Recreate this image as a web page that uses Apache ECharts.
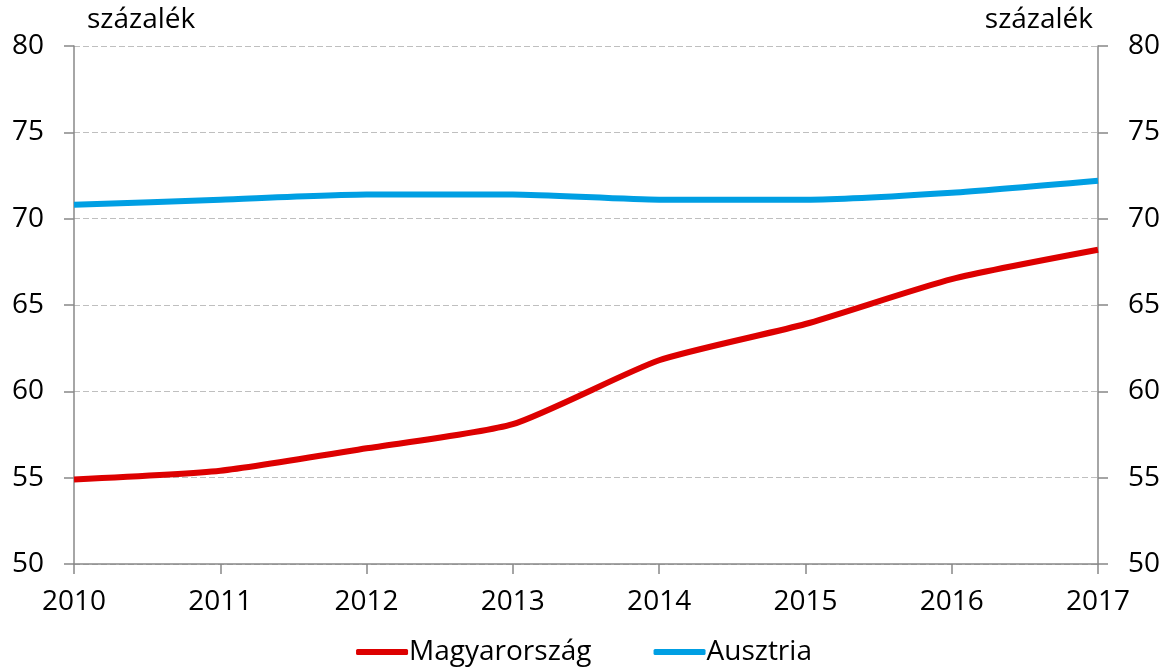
<!DOCTYPE html>
<html>
<head>
<meta charset="UTF-8">
<title></title>
<script src="https://cdn.jsdelivr.net/npm/echarts@6/dist/echarts.min.js"></script>
</head>
<body style="margin:0">
<div id="main" style="width:1168px;height:671px;"></div>
<script type="text/javascript">
var years = ['2010', '2011', '2012', '2013', '2014', '2015', '2016', '2017'];
var magyar = [54.9, 55.4, 56.7, 58.1, 61.8, 63.9, 66.5, 68.2];
var ausztria = [70.8, 71.1, 71.4, 71.4, 71.1, 71.1, 71.5, 72.2];
var unit = 'százalék';

var font = 'Open Sans';
var chart = echarts.init(document.getElementById('main'));
var yAx = function (pos) {
    return {
        type: 'value',
        position: pos,
        min: 50,
        max: 80,
        interval: 5,
        axisLine: { show: true, lineStyle: { color: '#888', width: 1.5 } },
        axisTick: { show: true, length: 10, lineStyle: { color: '#888', width: 1.5 } },
        axisLabel: { color: '#000', fontSize: 28, fontFamily: font, margin: 30 },
        splitLine: { show: pos === 'left', lineStyle: { color: '#bfbfbf', type: [6, 3], width: 1.2 } }
    };
};
var option = {
    animation: false,
    grid: { left: 74, right: 70, top: 46, bottom: 107 },
    graphic: [
        { type: 'text', left: 87, top: 6, style: { text: unit, fontSize: 28, fontFamily: font, fill: '#000' } },
        { type: 'text', right: 75, top: 6, style: { text: unit, fontSize: 28, fontFamily: font, fill: '#000' } }
    ],
    legend: {
        bottom: 0,
        left: 'center',
        itemGap: 62,
        itemWidth: 52,
        itemHeight: 6,
        textStyle: { fontSize: 28, fontFamily: font, color: '#000', padding: [0, 0, 0, -4] },
        data: [
            { name: 'Magyarország', icon: 'roundRect' },
            { name: 'Ausztria', icon: 'roundRect' }
        ]
    },
    xAxis: {
        type: 'category',
        boundaryGap: false,
        data: years,
        axisLine: { lineStyle: { color: '#888', width: 1.5 } },
        axisTick: { show: true, length: 10, alignWithLabel: true, lineStyle: { color: '#888', width: 1.5 } },
        axisLabel: { color: '#000', fontSize: 28, fontFamily: font, margin: 24 }
    },
    yAxis: [yAx('left'), yAx('right')],
    series: [
        {
            name: 'Magyarország',
            type: 'line',
            data: magyar,
            smooth: 0.2,
            showSymbol: false,
            color: '#dd0000',
            lineStyle: { width: 6 }
        },
        {
            name: 'Ausztria',
            type: 'line',
            data: ausztria,
            smooth: 0.2,
            showSymbol: false,
            color: '#009fe3',
            lineStyle: { width: 6 }
        }
    ]
};
chart.setOption(option);
</script>
</body>
</html>
